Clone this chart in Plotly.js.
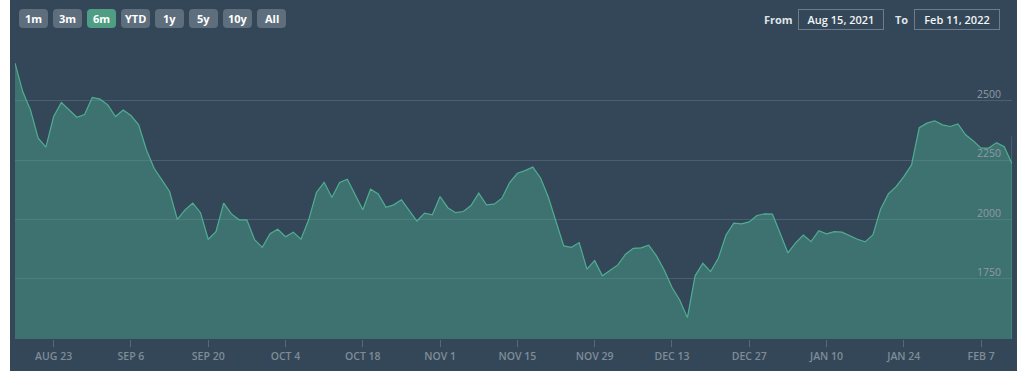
<!DOCTYPE html>
<html>
<head>
<meta charset="utf-8">
<script src="https://cdn.plot.ly/plotly-3.0.1.min.js"></script>
<style>
  html, body { margin: 0; padding: 0; background: #ffffff; width: 1024px; height: 371px; overflow: hidden; }
  #chart { position: absolute; left: 10px; top: 0; width: 1007px; height: 371px; }
</style>
</head>
<body>
<div id="chart"></div>
<script>
// Trading days (weekdays) shown on the chart
const dates = [
  '2021-08-16','2021-08-17','2021-08-18','2021-08-19','2021-08-20',
  '2021-08-23','2021-08-24','2021-08-25','2021-08-26','2021-08-27',
  '2021-08-30','2021-08-31','2021-09-01','2021-09-02','2021-09-03',
  '2021-09-06','2021-09-07','2021-09-08','2021-09-09','2021-09-10',
  '2021-09-13','2021-09-14','2021-09-15','2021-09-16','2021-09-17',
  '2021-09-20','2021-09-21','2021-09-22','2021-09-23','2021-09-24',
  '2021-09-27','2021-09-28','2021-09-29','2021-09-30','2021-10-01',
  '2021-10-04','2021-10-05','2021-10-06','2021-10-07','2021-10-08',
  '2021-10-11','2021-10-12','2021-10-13','2021-10-14','2021-10-15',
  '2021-10-18','2021-10-19','2021-10-20','2021-10-21','2021-10-22',
  '2021-10-25','2021-10-26','2021-10-27','2021-10-28','2021-10-29',
  '2021-11-01','2021-11-02','2021-11-03','2021-11-04','2021-11-05',
  '2021-11-08','2021-11-09','2021-11-10','2021-11-11','2021-11-12',
  '2021-11-15','2021-11-16','2021-11-17','2021-11-18','2021-11-19',
  '2021-11-22','2021-11-23','2021-11-24','2021-11-25','2021-11-26',
  '2021-11-29','2021-11-30','2021-12-01','2021-12-02','2021-12-03',
  '2021-12-06','2021-12-07','2021-12-08','2021-12-09','2021-12-10',
  '2021-12-13','2021-12-14','2021-12-15','2021-12-16','2021-12-17',
  '2021-12-20','2021-12-21','2021-12-22','2021-12-23','2021-12-24',
  '2021-12-27','2021-12-28','2021-12-29','2021-12-30','2021-12-31',
  '2022-01-03','2022-01-04','2022-01-05','2022-01-06','2022-01-07',
  '2022-01-10','2022-01-11','2022-01-12','2022-01-13','2022-01-14',
  '2022-01-17','2022-01-18','2022-01-19','2022-01-20','2022-01-21',
  '2022-01-24','2022-01-25','2022-01-26','2022-01-27','2022-01-28',
  '2022-01-31','2022-02-01','2022-02-02','2022-02-03','2022-02-04',
  '2022-02-07','2022-02-08','2022-02-09','2022-02-10','2022-02-11'
];

// Values
const values = [
  2659, 2539, 2462, 2343, 2305, 2434, 2493, 2462, 2431, 2442,
  2514, 2507, 2483, 2434, 2461, 2438, 2399, 2294, 2216, 2167,
  2118, 2001, 2041, 2069, 2029, 1917, 1949, 2069, 2024, 1999,
  1999, 1915, 1883, 1940, 1959, 1928, 1947, 1917, 1999, 2114,
  2157, 2093, 2156, 2170, 2108, 2041, 2128, 2108, 2052, 2062,
  2083, 2036, 1994, 2027, 2020, 2097, 2050, 2029, 2034, 2059,
  2111, 2062, 2065, 2090, 2156, 2195, 2206, 2221, 2175, 2095,
  1991, 1889, 1883, 1903, 1791, 1827, 1763, 1785, 1809, 1854,
  1879, 1881, 1892, 1847, 1788, 1715, 1661, 1587, 1763, 1816,
  1781, 1837, 1935, 1985, 1982, 1990, 2017, 2024, 2023, 1942,
  1860, 1902, 1935, 1907, 1953, 1940, 1949, 1947, 1931, 1917,
  1906, 1935, 2044, 2108, 2139, 2181, 2230, 2387, 2406, 2416,
  2399, 2392, 2403, 2357, 2331, 2301, 2301, 2324, 2307, 2235
];

const xTickVals = ['2021-08-23','2021-09-06','2021-09-20','2021-10-04','2021-10-18','2021-11-01',
  '2021-11-15','2021-11-29','2021-12-13','2021-12-27','2022-01-10','2022-01-24','2022-02-07'];
const xTickText = ['AUG 23','SEP 6','SEP 20','OCT 4','OCT 18','NOV 1','NOV 15','NOV 29',
  'DEC 13','DEC 27','JAN 10','JAN 24','FEB 7'];

const yTickVals = [1750, 2000, 2250, 2500, 2750];
const yTickText = ['1750', '2000', '2250', '2500', ''];

const rangeButtons = ['1m', '3m', '6m', 'YTD', '1y', '5y', '10y', 'All'];
const activeButton = '6m';
const fromLabel = 'From';
const toLabel = 'To';
const fromDate = 'Aug 15, 2021';
const toDate = 'Feb 11, 2022';

// ---- layout geometry (page pixels) ----
const DIV_LEFT = 10;
const M = { l: 5, r: 5, t: 41, b: 32 };
const DIV_W = 1007, DIV_H = 371;
const plotL = DIV_LEFT + M.l, plotW = DIV_W - M.l - M.r;
const plotT = M.t, plotH = DIV_H - M.t - M.b;
const px2x = p => (p - plotL) / plotW;
const px2y = p => (plotT + plotH - p) / plotH;

// rounded rectangle path (page pixels -> paper coords)
function roundRect(x0, y0, x1, y1, r) {
  const X = px2x, Y = px2y;
  return 'M' + X(x0 + r) + ',' + Y(y0) +
    ' L' + X(x1 - r) + ',' + Y(y0) +
    ' Q' + X(x1) + ',' + Y(y0) + ' ' + X(x1) + ',' + Y(y0 + r) +
    ' L' + X(x1) + ',' + Y(y1 - r) +
    ' Q' + X(x1) + ',' + Y(y1) + ' ' + X(x1 - r) + ',' + Y(y1) +
    ' L' + X(x0 + r) + ',' + Y(y1) +
    ' Q' + X(x0) + ',' + Y(y1) + ' ' + X(x0) + ',' + Y(y1 - r) +
    ' L' + X(x0) + ',' + Y(y0 + r) +
    ' Q' + X(x0) + ',' + Y(y0) + ' ' + X(x0 + r) + ',' + Y(y0) + ' Z';
}

const BG = '#344758';
const LINE = '#4fae92';
const FONT = 'Open Sans, sans-serif';

const shapes = [
  { type: 'line', xref: 'x', yref: 'y', x0: dates[dates.length - 1], x1: dates[dates.length - 1],
    y0: 1497, y1: 2350, line: { color: 'rgba(79,174,146,0.6)', width: 1 } }
];
const annotations = [];
rangeButtons.forEach((b, k) => {
  const left = 19 + 34 * k;
  shapes.push({
    type: 'path', xref: 'paper', yref: 'paper', path: roundRect(left, 9, left + 29, 28, 4),
    fillcolor: b === activeButton ? '#4f9e84' : '#5e6e7d', line: { width: 0 }
  });
  annotations.push({
    xref: 'paper', yref: 'paper', x: px2x(left + 14.5), y: px2y(18.5),
    xanchor: 'center', yanchor: 'middle', showarrow: false, text: b,
    font: { family: FONT, size: 11, color: '#ffffff', weight: 700 }
  });
});
annotations.push({
  xref: 'paper', yref: 'paper', x: px2x(778), y: px2y(19.5), xanchor: 'center', yanchor: 'middle',
  showarrow: false, text: fromLabel,
  font: { family: FONT, size: 11, color: '#dfe4e8', weight: 700 }
});
annotations.push({
  xref: 'paper', yref: 'paper', x: px2x(841), y: px2y(19.5), xanchor: 'center', yanchor: 'middle',
  showarrow: false, text: fromDate, width: 84, height: 19, borderpad: 0, borderwidth: 1,
  bordercolor: '#6d7c8a',
  font: { family: FONT, size: 11, color: '#f2f4f6', weight: 600 }
});
annotations.push({
  xref: 'paper', yref: 'paper', x: px2x(901.5), y: px2y(19.5), xanchor: 'center', yanchor: 'middle',
  showarrow: false, text: toLabel,
  font: { family: FONT, size: 11, color: '#dfe4e8', weight: 700 }
});
annotations.push({
  xref: 'paper', yref: 'paper', x: px2x(957), y: px2y(19.5), xanchor: 'center', yanchor: 'middle',
  showarrow: false, text: toDate, width: 84, height: 19, borderpad: 0, borderwidth: 1,
  bordercolor: '#6d7c8a',
  font: { family: FONT, size: 11, color: '#f2f4f6', weight: 600 }
});
// y-axis labels drawn inside the plot, right-aligned, just above their grid lines
yTickVals.forEach((v, i) => {
  if (!yTickText[i]) return;
  annotations.push({
    xref: 'paper', yref: 'y', x: px2x(1003), y: v, xanchor: 'right', yanchor: 'middle',
    yshift: 7, showarrow: false, text: yTickText[i],
    font: { family: FONT, size: 10.5, color: '#8e9aa6' }
  });
});

const trace = {
  x: dates, y: values, type: 'scatter', mode: 'lines',
  line: { color: LINE, width: 1.2 },
  fill: 'tozeroy', fillcolor: 'rgba(76,166,141,0.45)',
  hoverinfo: 'x+y'
};

const layout = {
  width: DIV_W, height: DIV_H,
  margin: M,
  paper_bgcolor: BG, plot_bgcolor: BG,
  showlegend: false,
  font: { family: FONT },
  xaxis: {
    type: 'date',
    range: [dates[0], dates[dates.length - 1]],
    rangebreaks: [{ bounds: ['sat', 'mon'] }],
    tickvals: xTickVals, ticktext: xTickText, tickangle: 0,
    ticks: 'outside', ticklen: 7, tickwidth: 1, tickcolor: '#56697b',
    showgrid: false, zeroline: false, showline: false,
    tickfont: { family: FONT, size: 10.5, color: '#7f8c98', weight: 600 },
    fixedrange: true
  },
  yaxis: {
    range: [1497, 2752],
    side: 'right',
    tickvals: yTickVals, ticktext: yTickText, showticklabels: false,
    ticks: '', showgrid: true, gridcolor: '#4b5f70', gridwidth: 1,
    zeroline: false, showline: false,
    fixedrange: true
  },
  shapes: shapes,
  annotations: annotations
};

Plotly.newPlot('chart', [trace], layout, { displayModeBar: false, responsive: false });
</script>
</body>
</html>
